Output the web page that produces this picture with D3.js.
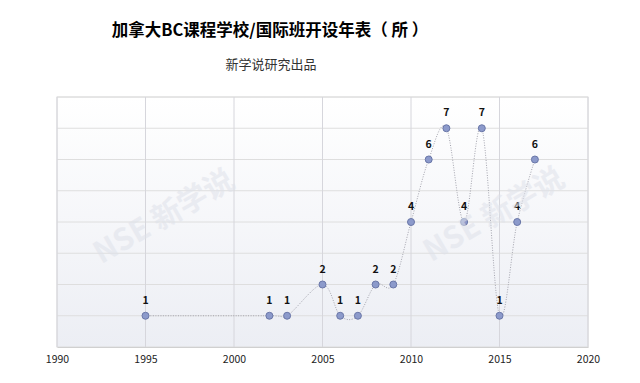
<!DOCTYPE html>
<html lang="zh">
<head>
<meta charset="UTF-8">
<title>加拿大BC课程学校/国际班开设年表（所）</title>
<script src="https://d3js.org/d3.v7.min.js"></script>
<style>
    body { margin: 0; background: #fff; font-family: "Noto Sans CJK SC", "Noto Sans", sans-serif; }
    svg { display: block; }
</style>
</head>
<body>
<div id="chart"></div>
<script>
    const years = [1995, 2002, 2003, 2005, 2006, 2007, 2008, 2009, 2010, 2011, 2012, 2013, 2014, 2015, 2016, 2017];
    const counts = [1, 1, 1, 2, 1, 1, 2, 2, 4, 6, 7, 4, 7, 1, 4, 6];
    const xTicks = [1990, 1995, 2000, 2005, 2010, 2015, 2020];
    const yGrid = [1, 2, 3, 4, 5, 6, 7, 8];

    const data = years.map((y, i) => ({ year: y, value: counts[i] }));

    const W = 640, H = 383;
    const margin = { top: 97, right: 52, bottom: 36, left: 57 };
    const width = W - margin.left - margin.right,
          height = H - margin.top - margin.bottom;

    const svg = d3.select("#chart").append("svg")
        .attr("width", W).attr("height", H);

    const defs = svg.append("defs");
    const grad = defs.append("linearGradient")
        .attr("id", "bg").attr("x1", 0).attr("y1", 0).attr("x2", 0).attr("y2", 1);
    grad.append("stop").attr("offset", "0%").attr("stop-color", "#ffffff");
    grad.append("stop").attr("offset", "100%").attr("stop-color", "#eceef4");

    svg.append("text")
        .attr("x", 270).attr("y", 36)
        .attr("text-anchor", "middle")
        .style("font-size", "16.5px").style("font-weight", "bold").style("fill", "#000")
        .text("加拿大BC课程学校/国际班开设年表（ 所 ）");

    svg.append("text")
        .attr("x", 271).attr("y", 69)
        .attr("text-anchor", "middle")
        .style("font-size", "13px").style("fill", "#333")
        .text("新学说研究出品");

    const g = svg.append("g").attr("transform", `translate(${margin.left},${margin.top})`);

    const x = d3.scaleLinear().domain([1990, 2020]).range([0, width]);
    const y = d3.scaleLinear().domain([0, 8]).range([height, 0]);

    g.append("rect")
        .attr("width", width).attr("height", height)
        .attr("fill", "url(#bg)")
        .attr("stroke", "#dcdcdc");

    // watermarks
    [[165, 218], [495, 216]].forEach(p => {
        svg.append("text")
            .attr("transform", `translate(${p[0]},${p[1]}) rotate(-30)`)
            .attr("text-anchor", "middle")
            .attr("dominant-baseline", "middle")
            .style("font-size", "30px").style("font-weight", "bold")
            .style("fill", "#dfe2ea").style("opacity", 0.55)
            .text("NSE 新学说");
    });

    g.append("g").selectAll("line")
        .data(yGrid).enter().append("line")
        .attr("x1", 0).attr("x2", width)
        .attr("y1", d => y(d)).attr("y2", d => y(d))
        .attr("stroke", "#dedede");

    g.append("g").selectAll("line")
        .data(xTicks).enter().append("line")
        .attr("x1", d => x(d)).attr("x2", d => x(d))
        .attr("y1", 0).attr("y2", height)
        .attr("stroke", "#d6d6dc");

    const xAxis = g.append("g")
        .attr("transform", `translate(0,${height})`)
        .call(d3.axisBottom(x).tickValues(xTicks).tickFormat(d3.format("d")).tickSize(0).tickPadding(9));
    xAxis.select(".domain").attr("stroke", "#d0d0d0");
    xAxis.selectAll("text")
        .style("font-size", "10.5px").style("fill", "#222")
        .style("font-family", "'Noto Sans CJK SC', sans-serif");

    // smoothed line, like the spreadsheet's "smooth line" option
    const line = d3.line()
        .x(d => x(d.year)).y(d => y(d.value))
        .curve(d3.curveCardinal.tension(0));

    g.append("path")
        .datum(data)
        .attr("d", line)
        .attr("fill", "none")
        .attr("stroke", "#a4a4ae")
        .attr("stroke-width", 1)
        .attr("stroke-dasharray", "1,1.5");

    g.append("g").selectAll("circle")
        .data(data).enter().append("circle")
        .attr("cx", d => x(d.year)).attr("cy", d => y(d.value))
        .attr("r", 3.5)
        .attr("fill", "#8c9acb")
        .attr("stroke", "#6a77a8")
        .attr("stroke-width", 1);

    g.append("g").selectAll("text")
        .data(data).enter().append("text")
        .attr("x", d => x(d.year)).attr("y", d => y(d.value) - 12)
        .attr("text-anchor", "middle")
        .style("font-size", "10.5px").style("font-weight", "bold").style("fill", "#111")
        .text(d => d.value);
</script>
</body>
</html>
